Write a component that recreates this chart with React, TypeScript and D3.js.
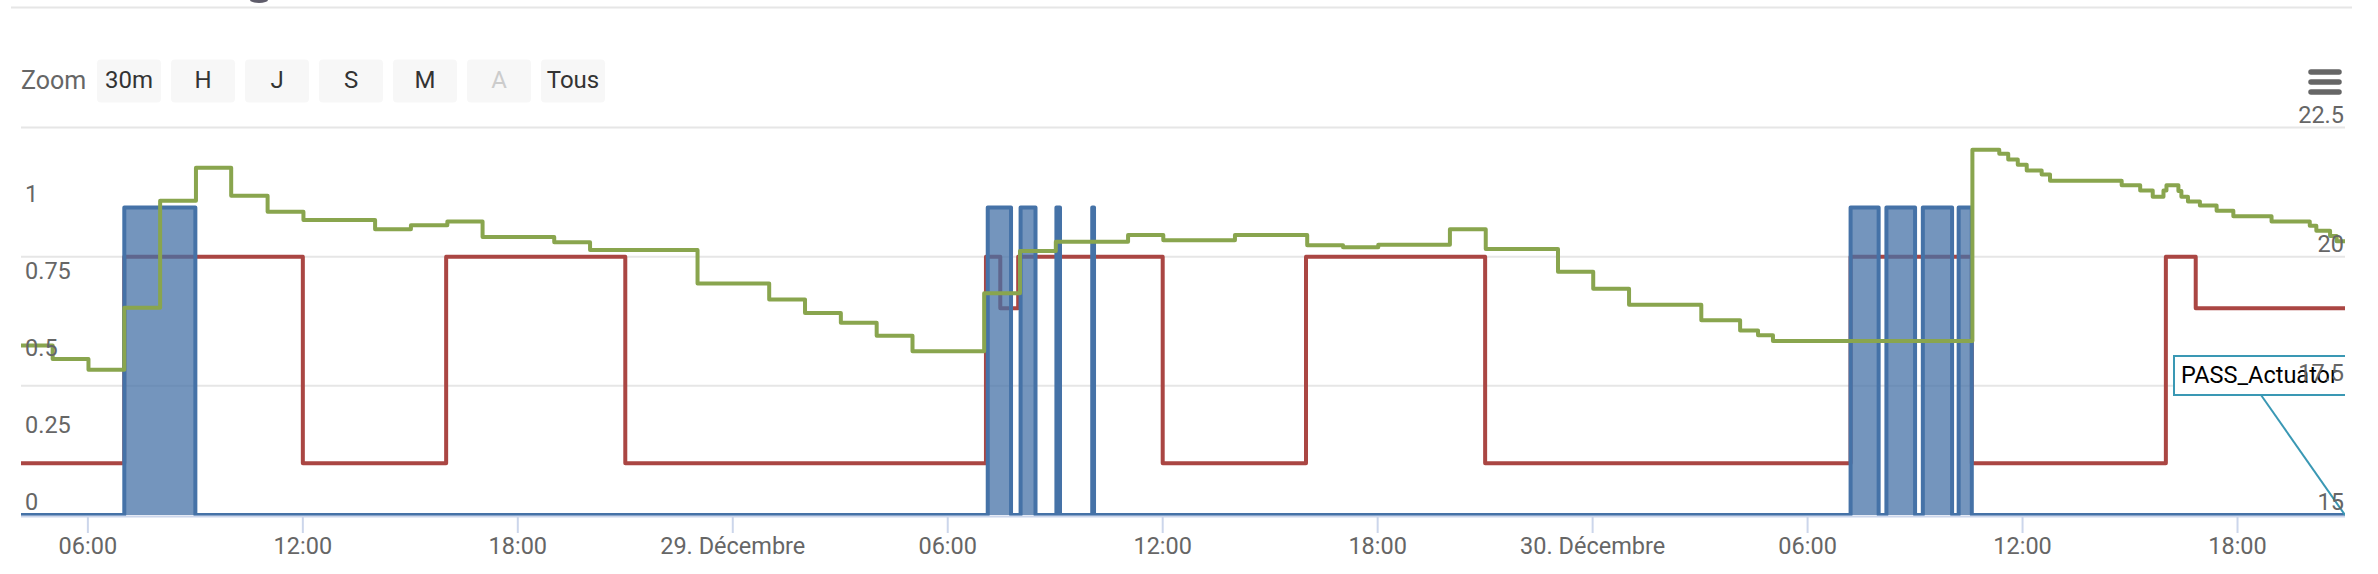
import React from 'react';
import * as d3 from 'd3';

const W = 2378;
const H = 574;
const parse = d3.timeParse('%Y-%m-%d %H:%M');

// ---- data ----
const domainStart = '2018-12-28 04:08';
const domainEnd = '2018-12-30 21:00';

// room temperature (right axis, °C), step-after
const temperature: [string, number][] = [
  ['2018-12-28 04:00', 18.28],
  ['2018-12-28 05:01', 18.02],
  ['2018-12-28 06:01', 17.81],
  ['2018-12-28 07:01', 19.01],
  ['2018-12-28 08:01', 21.08],
  ['2018-12-28 09:01', 21.72],
  ['2018-12-28 10:00', 21.18],
  ['2018-12-28 11:01', 20.87],
  ['2018-12-28 12:01', 20.71],
  ['2018-12-28 14:01', 20.53],
  ['2018-12-28 15:01', 20.61],
  ['2018-12-28 16:02', 20.68],
  ['2018-12-28 17:01', 20.38],
  ['2018-12-28 19:01', 20.28],
  ['2018-12-28 20:01', 20.13],
  ['2018-12-28 23:01', 19.48],
  ['2018-12-29 01:01', 19.17],
  ['2018-12-29 02:01', 18.91],
  ['2018-12-29 03:01', 18.72],
  ['2018-12-29 04:01', 18.47],
  ['2018-12-29 05:01', 18.17],
  ['2018-12-29 07:01', 19.29],
  ['2018-12-29 08:01', 20.11],
  ['2018-12-29 09:01', 20.29],
  ['2018-12-29 11:02', 20.42],
  ['2018-12-29 12:01', 20.32],
  ['2018-12-29 14:01', 20.42],
  ['2018-12-29 16:02', 20.22],
  ['2018-12-29 17:02', 20.18],
  ['2018-12-29 18:01', 20.23],
  ['2018-12-29 20:01', 20.53],
  ['2018-12-29 21:01', 20.15],
  ['2018-12-29 23:02', 19.71],
  ['2018-12-30 00:01', 19.38],
  ['2018-12-30 01:01', 19.07],
  ['2018-12-30 03:02', 18.77],
  ['2018-12-30 04:07', 18.57],
  ['2018-12-30 04:37', 18.48],
  ['2018-12-30 05:02', 18.37],
  ['2018-12-30 10:36', 22.07],
  ['2018-12-30 11:21', 21.99],
  ['2018-12-30 11:36', 21.88],
  ['2018-12-30 11:52', 21.78],
  ['2018-12-30 12:07', 21.67],
  ['2018-12-30 12:32', 21.59],
  ['2018-12-30 12:46', 21.47],
  ['2018-12-30 14:46', 21.38],
  ['2018-12-30 15:17', 21.28],
  ['2018-12-30 15:38', 21.16],
  ['2018-12-30 15:56', 21.28],
  ['2018-12-30 16:01', 21.38],
  ['2018-12-30 16:21', 21.27],
  ['2018-12-30 16:26', 21.16],
  ['2018-12-30 16:37', 21.07],
  ['2018-12-30 16:57', 20.99],
  ['2018-12-30 17:25', 20.89],
  ['2018-12-30 17:53', 20.78],
  ['2018-12-30 18:57', 20.68],
  ['2018-12-30 20:01', 20.6],
  ['2018-12-30 20:12', 20.5],
  ['2018-12-30 20:35', 20.4],
  ['2018-12-30 20:46', 20.3],
  ['2018-12-30 21:00', 20.3],
];

// setpoint (right axis, °C), step-after
const setpoint: [string, number][] = [
  ['2018-12-28 04:00', 16],
  ['2018-12-28 07:01', 20],
  ['2018-12-28 12:00', 16],
  ['2018-12-28 16:00', 20],
  ['2018-12-28 21:00', 16],
  ['2018-12-29 07:04', 20],
  ['2018-12-29 07:28', 19],
  ['2018-12-29 07:58', 20],
  ['2018-12-29 12:00', 16],
  ['2018-12-29 16:00', 20],
  ['2018-12-29 21:00', 16],
  ['2018-12-30 07:12', 20],
  ['2018-12-30 10:35', 16],
  ['2018-12-30 16:00', 20],
  ['2018-12-30 16:50', 19],
  ['2018-12-30 21:00', 19],
];

// PASS_Actuator (left axis, 0/1), step-after area
const actuator: [string, number][] = [
  ['2018-12-28 04:00', 0],
  ['2018-12-28 07:01', 1],
  ['2018-12-28 09:00', 0],
  ['2018-12-29 07:07', 1],
  ['2018-12-29 07:46', 0],
  ['2018-12-29 08:02', 1],
  ['2018-12-29 08:27', 0],
  ['2018-12-29 09:02', 1],
  ['2018-12-29 09:08', 0],
  ['2018-12-29 10:02', 1],
  ['2018-12-29 10:05', 0],
  ['2018-12-30 07:12', 1],
  ['2018-12-30 07:59', 0],
  ['2018-12-30 08:12', 1],
  ['2018-12-30 09:00', 0],
  ['2018-12-30 09:13', 1],
  ['2018-12-30 10:02', 0],
  ['2018-12-30 10:13', 1],
  ['2018-12-30 10:35', 0],
  ['2018-12-30 21:00', 0],
];

const xTickTimes = [
  '2018-12-28 06:00', '2018-12-28 12:00', '2018-12-28 18:00', '2018-12-29 00:00',
  '2018-12-29 06:00', '2018-12-29 12:00', '2018-12-29 18:00', '2018-12-30 00:00',
  '2018-12-30 06:00', '2018-12-30 12:00', '2018-12-30 18:00',
];
const xTickLabels = [
  '06:00', '12:00', '18:00', '29. Décembre',
  '06:00', '12:00', '18:00', '30. Décembre',
  '06:00', '12:00', '18:00',
];
const leftTicks = [0, 0.25, 0.5, 0.75, 1];
const leftTickLabels = ['0', '0.25', '0.5', '0.75', '1'];
const rightTicks = [15, 17.5, 20, 22.5];
const rightTickLabels = ['15', '17.5', '20', '22.5'];
const zoomButtons = ['30m', 'H', 'J', 'S', 'M', 'A', 'Tous'];
const disabledButton = 'A';
const annotationLabel = 'PASS_Actuator';

// ---- layout ----
const PL = 21;
const PR = 2345;
const PT = 127.5;
const PB = 515;
const FONT = 'Roboto, "Open Sans", sans-serif';

const BLUE = '#4572A7';
const RED = '#AA4643';
const GREEN = '#89A54E';

export default function App() {
  const x = d3
    .scaleTime()
    .domain([parse(domainStart) as Date, parse(domainEnd) as Date])
    .range([PL, PR]);
  const yR = d3.scaleLinear().domain([15, 22.5]).range([PB, PT]);
  const yL = d3.scaleLinear().domain([0, 1.26]).range([PB, PT]);

  const tx = (d: [string, number]) => x(parse(d[0]) as Date);

  const tempLine = d3
    .line<[string, number]>()
    .x(tx)
    .y((d) => yR(d[1]))
    .curve(d3.curveStepAfter);
  const actArea = d3
    .area<[string, number]>()
    .x(tx)
    .y0(yL(0))
    .y1((d) => yL(d[1]))
    .curve(d3.curveStepAfter);
  const actLine = d3
    .line<[string, number]>()
    .x(tx)
    .y((d) => yL(d[1]))
    .curve(d3.curveStepAfter);

  const btnX0 = 97;
  const btnStep = 74;
  const btnW = 64;

  return (
    <svg
      width={W}
      height={H}
      viewBox={`0 0 ${W} ${H}`}
      style={{ position: 'absolute', left: 0, top: 0, display: 'block', background: '#fff' }}
      fontFamily={FONT}
    >
      <defs>
        <clipPath id="plotClip">
          <rect x={PL} y={0} width={PR - PL} height={H} />
        </clipPath>
      </defs>

      {/* top fragment of cut-off title and separator */}
      <path d="M250,0 A9,3 0 0 0 268,0 Z" fill="#5f5d6b" />
      <line x1={11} x2={2352} y1={7.5} y2={7.5} stroke="#e6e6e6" strokeWidth={2} />

      {/* range selector */}
      <text x={21} y={89} fontSize={25} fill="#666666">
        Zoom
      </text>
      {zoomButtons.map((b, i) => (
        <g key={b}>
          <rect x={btnX0 + i * btnStep} y={59.5} width={btnW} height={43} rx={4} fill="#f7f7f7" />
          <text
            x={btnX0 + i * btnStep + btnW / 2}
            y={88}
            fontSize={24}
            textAnchor="middle"
            fill={b === disabledButton ? '#cccccc' : '#333333'}
          >
            {b}
          </text>
        </g>
      ))}

      {/* export menu icon */}
      {[72, 82, 92].map((yy) => (
        <line key={yy} x1={2311} x2={2339} y1={yy} y2={yy} stroke="#666666" strokeWidth={5.5} strokeLinecap="round" />
      ))}

      {/* gridlines */}
      {rightTicks.slice(1).map((t) => (
        <line key={t} x1={PL} x2={PR} y1={yR(t)} y2={yR(t)} stroke="#e6e6e6" strokeWidth={2} />
      ))}

      {/* series */}
      <g clipPath="url(#plotClip)">
        <path d={tempLine(setpoint) || ''} fill="none" stroke={RED} strokeWidth={4} strokeLinejoin="round" />
        <path d={actArea(actuator) || ''} fill={BLUE} fillOpacity={0.75} stroke="none" />
        <path d={actLine(actuator) || ''} fill="none" stroke={BLUE} strokeWidth={4} strokeLinejoin="round" />
        <path d={tempLine(temperature) || ''} fill="none" stroke={GREEN} strokeWidth={4} strokeLinejoin="round" />
      </g>

      {/* x axis */}
      <line x1={PL} x2={PR} y1={PB + 1.5} y2={PB + 1.5} stroke="#ccd6eb" strokeWidth={2} />
      {xTickTimes.map((t, i) => {
        const xx = x(parse(t) as Date);
        return (
          <g key={t}>
            <line x1={xx} x2={xx} y1={PB + 2} y2={PB + 18} stroke="#ccd6eb" strokeWidth={2} />
            <text x={xx} y={554} fontSize={23.5} textAnchor="middle" fill="#666666">
              {xTickLabels[i]}
            </text>
          </g>
        );
      })}

      {/* annotation label */}
      <g clipPath="url(#plotClip)">
        <line x1={2261} y1={395} x2={PR} y2={PB} stroke="#3a98b4" strokeWidth={2} />
        <rect x={2174} y={356} width={220} height={39} fill="#ffffff" stroke="#3a98b4" strokeWidth={2} />
        <text x={2181} y={383} fontSize={23.5} fill="#000000">
          {annotationLabel}
        </text>
      </g>

      {/* left axis labels */}
      {leftTicks.map((t, i) => (
        <text key={t} x={25} y={yL(t) - 5} fontSize={23.5} fill="#666666">
          {leftTickLabels[i]}
        </text>
      ))}

      {/* right axis labels */}
      {rightTicks.map((t, i) => (
        <text key={t} x={2344} y={yR(t) - 5} fontSize={23.5} textAnchor="end" fill="#666666">
          {rightTickLabels[i]}
        </text>
      ))}
    </svg>
  );
}
